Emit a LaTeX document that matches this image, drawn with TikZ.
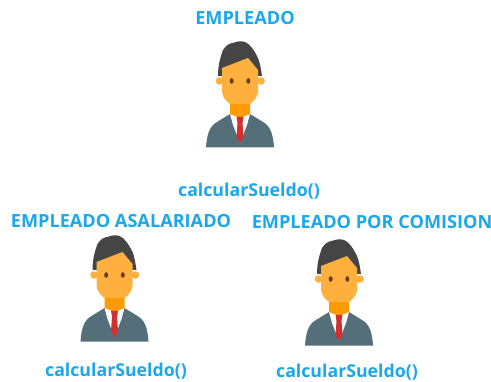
\documentclass[tikz,border=0pt]{standalone}
\usepackage{fontspec}
\setmainfont{Open Sans}
\usepackage{xcolor}
\definecolor{titleblue}{HTML}{1AA7EC}
\definecolor{hairgray}{HTML}{454545}
\definecolor{skin}{HTML}{FFB03F}
\definecolor{neckorange}{HTML}{FF9A00}
\definecolor{suit}{HTML}{546E7A}
\definecolor{tiered}{HTML}{D32F2F}
\definecolor{eyebrown}{HTML}{6B3E12}

\tikzset{
    person/.pic={
        % Suit
        \fill[suit] (-34,-117.5) .. controls (-33,-103) and (-30,-96) .. (-23,-92)
            -- (-10,-84) -- (10,-84) -- (23,-92)
            .. controls (30,-96) and (33,-103) .. (34,-117.5) -- cycle;
        % Shirt and neck
        \fill[white] (-10,-84) -- (10,-84) -- (7,-95) -- (0,-113) -- (-7,-95) -- cycle;
        \fill[neckorange] (-10,-70) -- (10,-70) -- (10,-84) -- (0,-88) -- (-10,-84) -- cycle;
        % Tie
        \fill[tiered] (-3.5,-87) -- (3.5,-87) -- (2.5,-93) -- (3.5,-107) -- (0,-113) -- (-3.5,-107) -- (-2.5,-93) -- cycle;
        % Ears
        \fill[skin] (-20.5,-51) circle (3.8);
        \fill[skin] (21,-51) circle (3.8);
        % Hair behind the head
        \fill[hairgray] (-22,-46) .. controls (-22,-36) and (-20,-28) .. (-17,-20)
            .. controls (-14,-15) and (-10,-13) .. (-7,-13)
            .. controls (-3,-11) and (2,-11) .. (5,-12)
            .. controls (10,-14) and (14,-20) .. (18,-28)
            .. controls (20,-33) and (21,-39) .. (22,-46) -- cycle;
        % Face
        \fill[skin] (-18,-38) -- (8,-28) -- (18,-40) -- (18,-62)
            .. controls (17,-68) and (14,-71) .. (10,-74) -- (-10,-74)
            .. controls (-14,-71) and (-17,-68) .. (-18,-62) -- cycle;
        % Eyes
        \fill[eyebrown] (-8.3,-51) ellipse (2 and 2.8);
        \fill[eyebrown] (8.3,-51) ellipse (2 and 2.8);
    },
    title/.style={font=\bfseries\fontsize{13.6}{15}\selectfont, text=titleblue, inner sep=0pt},
    metodotext/.style={title, font=\bfseries\fontsize{13.3}{15}\selectfont},
}

\begin{document}
\begin{tikzpicture}[x=0.75pt, y=0.75pt]

        \useasboundingbox (0,0) rectangle (491,381);

        % Top employee
        \node[title] (empleado) at (245,363) {EMPLEADO};
        \pic at (240,351) {person};
        \node[metodotext] (metodo) at (249,190) {calcularSueldo()};

        % Salaried employee
        \node[title] (asalariado) at (121,160) {EMPLEADO ASALARIADO};
        \pic at (114.5,157) {person};
        \node[metodotext] (metodoa) at (116,10) {calcularSueldo()};

        % Commission employee
        \node[title] (comision) at (372,159) {EMPLEADO POR COMISION};
        \pic at (339,153) {person};
        \node[metodotext] (metodoc) at (347,9) {calcularSueldo()};

\end{tikzpicture}
\end{document}
